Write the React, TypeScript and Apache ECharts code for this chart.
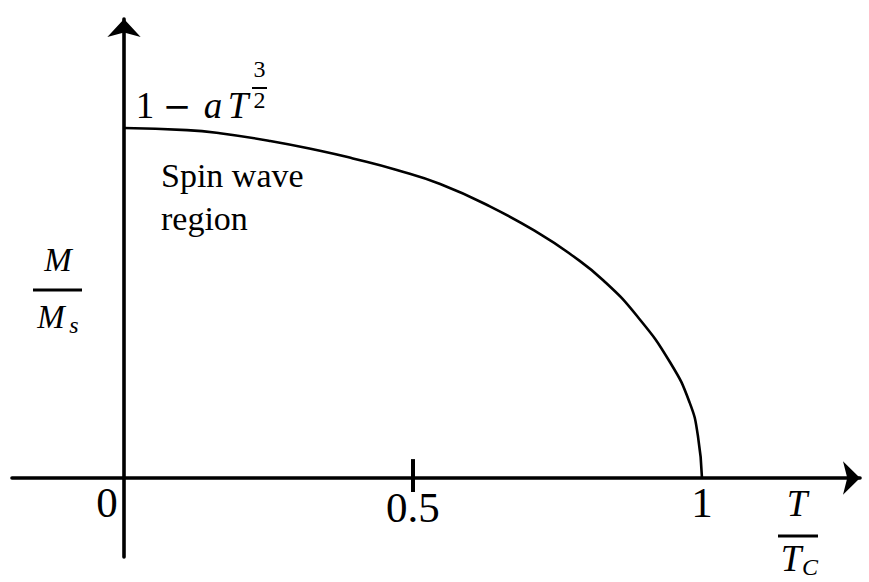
import React, { useEffect, useRef } from "react";
import * as echarts from "echarts";

// Reduced magnetisation M/Ms against reduced temperature T/Tc
const tempRatio = [0, 0.109, 0.166, 0.253, 0.339, 0.396, 0.472, 0.547, 0.633, 0.72, 0.772, 0.829, 0.888, 0.945, 0.979, 0.993, 1.0];
const magRatio = [1.0, 0.994, 0.985, 0.963, 0.935, 0.913, 0.88, 0.84, 0.776, 0.697, 0.64, 0.565, 0.462, 0.33, 0.214, 0.12, 0];

// Tick marks and their labels on the T/Tc axis
const tickValues = [0.5];
const labelValues = [0, 0.5, 1];
const tickHalfUp = 0.054;
const tickHalfDown = -0.04;

const SERIF = "Liberation Serif";

export default function App() {
  const ref = useRef<HTMLDivElement>(null);

  useEffect(() => {
    if (!ref.current) return;
    const chart = echarts.init(ref.current, undefined, { renderer: "svg" });

    const curve = tempRatio.map((t, i) => [t, magRatio[i]]);
    const tickSeries = tickValues.map((v) => ({
      type: "line" as const,
      data: [
        [v, tickHalfUp],
        [v, tickHalfDown],
      ],
      symbol: "none",
      lineStyle: { color: "#000", width: 4 },
      silent: true,
      z: 1,
    }));

    const text = (
      str: string,
      x: number,
      y: number,
      size: number,
      italic = false,
      align: string = "center",
      family: string = SERIF
    ) => ({
      type: "text",
      x,
      y,
      silent: true,
      style: {
        text: str,
        fontFamily: family,
        fontSize: size,
        fontStyle: italic ? "italic" : "normal",
        fill: "#000",
        align,
        verticalAlign: "middle",
      },
    });
    const bar = (x1: number, x2: number, y: number, w = 2.5) => ({
      type: "line",
      silent: true,
      shape: { x1, y1: y, x2, y2: y },
      style: { stroke: "#000", lineWidth: w },
    });

    chart.setOption({
      animation: false,
      backgroundColor: "#fff",
      textStyle: { fontFamily: SERIF },
      grid: {
        left: 12,
        right: 9,
        top: 19,
        bottom: 25,
        containLabel: false,
        outerBoundsMode: "none",
      },
      xAxis: {
        type: "value",
        min: -0.1938,
        max: 1.2734,
        splitLine: { show: false },
        axisTick: { show: false },
        axisLine: {
          show: true,
          onZero: true,
          symbol: ["none", "arrow"],
          symbolSize: [25, 17],
          lineStyle: { color: "#000", width: 3.6 },
        },
        axisLabel: {
          show: true,
          customValues: labelValues,
          hideOverlap: false,
          margin: -76,
          color: "#000",
          fontFamily: SERIF,
          fontSize: 43,
          lineHeight: 43,
          formatter: (v: number) =>
            v === 0 ? "{z|0}" : v === 0.5 ? "{h|0.5}" : "{o|" + v + "}",
          rich: {
            z: { fontFamily: SERIF, fontSize: 43, lineHeight: 43, padding: [0, 34, 0, 0] },
            h: { fontFamily: SERIF, fontSize: 43, lineHeight: 43, padding: [9, 0, 0, 0] },
            o: { fontFamily: SERIF, fontSize: 43, lineHeight: 43 },
          },
        },
      },
      yAxis: {
        type: "value",
        min: -0.2257,
        max: 1.3114,
        splitLine: { show: false },
        axisTick: { show: false },
        axisLabel: { show: false },
        axisLine: {
          show: true,
          onZero: true,
          symbol: ["none", "arrow"],
          symbolSize: [25, 18],
          lineStyle: { color: "#000", width: 3.6 },
        },
      },
      series: [
        {
          type: "line",
          data: curve,
          smooth: 0.5,
          symbol: "none",
          lineStyle: { color: "#000", width: 2.6 },
          silent: true,
          z: 3,
        },
        ...tickSeries,
      ],
      graphic: [
        // 1 − aT^(3/2)
        text("1", 145, 105.5, 37),
        text("−", 177, 106, 34, false, "center", "DejaVu Serif"),
        text("a", 213, 105.5, 37, true),
        text("T", 238, 105.5, 37, true),
        text("3", 259.5, 69, 24),
        bar(252, 267, 88, 2),
        text("2", 259.5, 100, 24),
        // region annotation
        text("Spin wave", 161, 175.5, 34, false, "left"),
        text("region", 161, 218.5, 34, false, "left"),
        // M / Ms
        text("M", 58, 260, 33, true),
        bar(33, 82, 290, 3),
        text("M", 51, 317, 33, true),
        text("s", 74, 325, 24, true),
        // T / Tc
        text("T", 797, 503, 37, true),
        bar(778, 818, 536, 3),
        text("T", 791, 558, 37, true),
        text("C", 810, 567, 24, true),
      ],
    });

    return () => chart.dispose();
  }, []);

  return (
    <div
      ref={ref}
      style={{ position: "fixed", left: 0, top: 0, width: 869, height: 582, background: "#fff" }}
    />
  );
}
